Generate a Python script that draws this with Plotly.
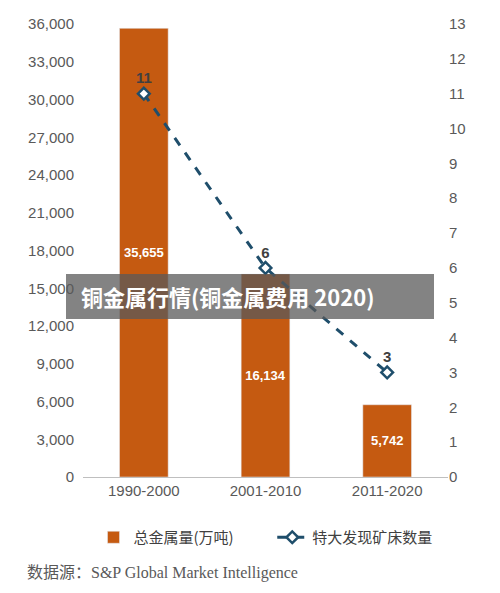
import plotly.graph_objects as go

categories = ["1990-2000", "2001-2010", "2011-2020"]
gold_amount = [35655, 16134, 5742]
deposit_count = [11, 6, 3]
left_ticks = list(range(0, 36001, 3000))
right_ticks = list(range(0, 14))

OFF = 7
H = 593; T = 23 - OFF; B = 117 + OFF
def py(pix):
    return (H - B - (pix - OFF)) / (H - T - B)
def px(pix):
    return (pix - 8 - 75) / 365

fig = go.Figure()
fig.add_trace(go.Bar(
    x=categories, y=gold_amount, name="总金属量(万吨)" + "\u00a0" * 10,
    marker_color="#C55A11", width=0.4,
    text=[f"<b>{v:,}</b>" for v in gold_amount], textposition="inside",
    insidetextanchor="middle",
    textfont=dict(color="white", size=13, family="Liberation Sans"),
))
fig.add_trace(go.Scatter(
    x=categories, y=deposit_count, name="特大发现矿床数量", yaxis="y2",
    mode="lines+markers+text",
    line=dict(color="#1F4E6B", width=3, dash="dash"),
    marker=dict(symbol="diamond", size=9, color="white",
                line=dict(color="#1F4E6B", width=2.5)),
    text=[f"<b>{v}</b>" for v in deposit_count], textposition="top center",
    textfont=dict(color="#404040", size=15, family="Liberation Sans"),
))
fig.update_layout(
    width=500, height=593, plot_bgcolor="white", paper_bgcolor="white",
    margin=dict(l=75, r=60, t=T, b=B, autoexpand=False),
    font=dict(family="Liberation Sans, Noto Sans CJK SC", color="#595959", size=15),
    bargap=0.6, showlegend=True,
    legend=dict(orientation="h", x=0.5, xanchor="center", y=py(520), yanchor="top",
                font=dict(size=15, color="#404040", family="Noto Sans CJK SC")),
    xaxis=dict(showline=True, linecolor="#BFBFBF", tickfont=dict(size=15)),
    yaxis=dict(range=[0, 36000], tickvals=left_ticks, tickformat=",",
               showgrid=False, showline=False, ticklabelstandoff=8),
    yaxis2=dict(range=[0, 13], tickvals=right_ticks, overlaying="y", side="right",
                showgrid=False),
    annotations=[
        dict(text="<b>铜金属行情(铜金属费用 2020)</b>", xref="paper", yref="paper",
             x=-0.01, y=py(295), showarrow=False, xanchor="left",
             font=dict(color="white", size=22, family="Noto Sans CJK SC")),
        dict(text="数据源：<span style='font-family:Liberation Serif'>S&P Global Market Intelligence</span>",
             xref="paper", yref="paper",
             x=-0.16, y=py(570), xanchor="left", yanchor="middle", showarrow=False,
             font=dict(size=16, color="#595959", family="Noto Sans CJK SC")),
    ],
    shapes=[dict(type="rect", xref="paper", yref="paper", x0=px(66), x1=px(434),
                 y0=py(318), y1=py(273), fillcolor="rgba(90,90,90,0.75)", line_width=0,
                 layer="above")],
)
fig.write_html("out.html")
